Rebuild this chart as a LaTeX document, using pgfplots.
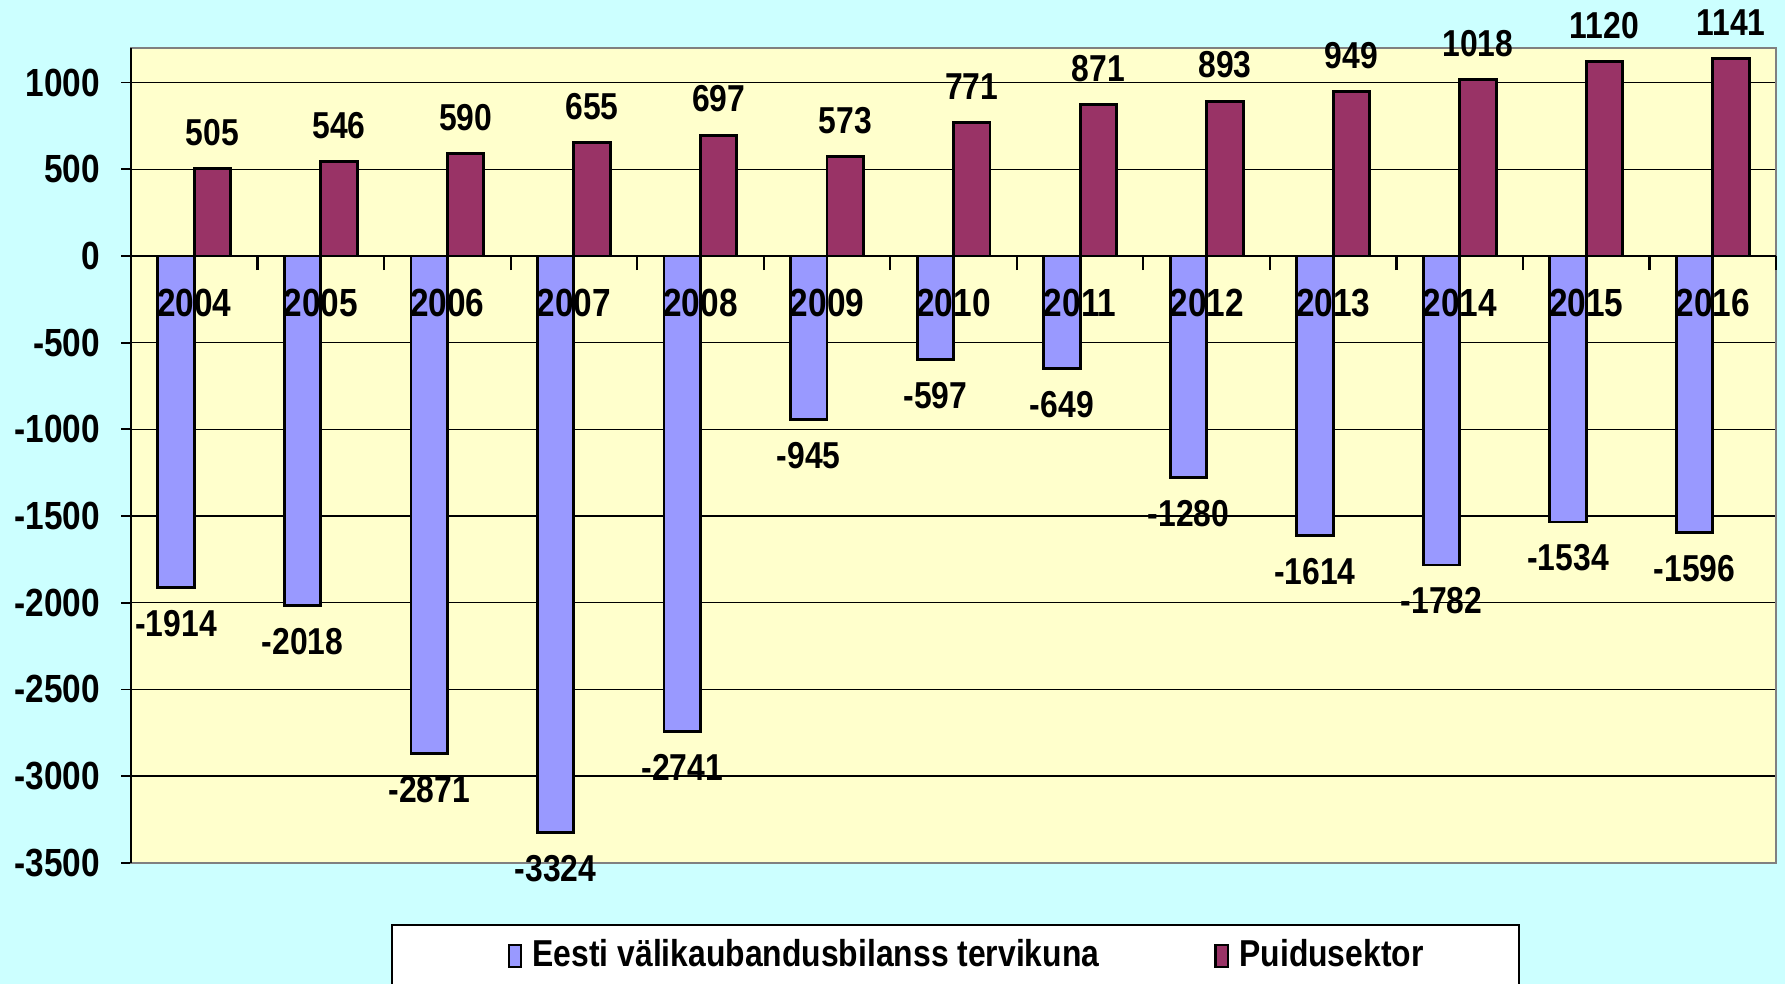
\documentclass[border=0pt]{standalone}
\usepackage{fontspec}
\setmainfont{Liberation Sans}[FakeStretch=0.85]
\usepackage{pgfplots}
\pgfplotsset{compat=1.18}

\definecolor{bgcyan}{RGB}{204,255,255}
\definecolor{plotyellow}{RGB}{255,255,204}
\definecolor{barblue}{RGB}{153,153,255}
\definecolor{barred}{RGB}{153,51,102}

\pgfplotsset{
  sqleg/.style={legend image code/.code={%
      \draw[##1,line width=0.6pt] (0pt,-3pt) rectangle (3.4pt,3pt);
      \path (6.3pt,0pt);}},
  samebox/.style={at={(0,0)}, anchor=south west, scale only axis,
      width=460.8pt, height=228.3pt,
      xmin=-0.5, xmax=12.5, ymin=-3500, ymax=1200},
}

\begin{document}
\begin{tikzpicture}
\useasboundingbox (-36.7pt,-33.9pt) rectangle (463.3pt,241.7pt);
\clip (-36.7pt,-33.9pt) rectangle (463.3pt,241.7pt);
\fill[bgcyan] (-36.7pt,-33.9pt) rectangle (463.3pt,241.7pt);
% legend frame (cut by the page bottom)
\draw[fill=white,line width=0.7pt] (73.1pt,-17.4pt) rectangle (388.8pt,-50pt);

\begin{axis}[
    samebox,
    ybar=0pt, bar width=0.288,
    axis background/.style={fill=plotyellow},
    axis line style={draw=gray, line width=0.7pt},
    xtick=\empty,
    ytick={-3500,-3000,-2500,-2000,-1500,-1000,-500,0,500,1000},
    yticklabels={-3500,-3000,-2500,-2000,-1500,-1000,-500,0,500,1000},
    ytick pos=left, ytick align=outside, major tick length=2.8pt,
    major tick style={black, line width=0.5pt},
    ymajorgrids, major grid style={black, line width=0.4pt},
    yticklabel style={font=\bfseries\fontsize{11}{13}\selectfont, xshift=-2.4pt},
    point meta=y,
    nodes near coords,
    nodes near coords align=vertical,
    /pgf/number format/.cd, 1000 sep={}, assume math mode=true, /pgfplots/.cd,
    every node near coord/.append style={font=\bfseries\fontsize{10.5}{12}\selectfont,
        inner sep=6pt, text=black},
    legend columns=2,
    legend style={at={(axis description cs:0.2285,-0.1143)}, anchor=west,
        draw=none, fill=none, inner sep=0pt, column sep=0pt,
        nodes={inner sep=0pt},
        font=\bfseries\fontsize{10.5}{12}\selectfont},
]
\addplot[fill=barblue, draw=black, line width=0.8pt, sqleg] coordinates {
    (0,-1914) (1,-2018) (2,-2871) (3,-3324) (4,-2741) (5,-945) (6,-597)
    (7,-649) (8,-1280) (9,-1614) (10,-1782) (11,-1534) (12,-1596)
};
\addlegendentry{\makebox[191pt][l]{Eesti välikaubandusbilanss tervikuna}}
\addplot[fill=barred, draw=black, line width=0.8pt, sqleg] coordinates {
    (0,505) (1,546) (2,590) (3,655) (4,697) (5,573) (6,771)
    (7,871) (8,893) (9,949) (10,1018) (11,1120) (12,1141)
};
\addlegendentry{Puidusektor}
\end{axis}

% x axis at zero with year labels, drawn over the bars
\begin{axis}[
    samebox,
    axis x line=middle, axis y line=left,
    axis line style={-, black, line width=0.6pt},
    ytick=\empty,
    xtick={0,1,2,3,4,5,6,7,8,9,10,11,12},
    xticklabels={2004,2005,2006,2007,2008,2009,2010,2011,2012,2013,2014,2015,2016},
    minor xtick={-0.5,0.5,...,12.5},
    xtick align=outside, major tick length=0pt, minor tick length=4pt,
    minor tick style={black, line width=0.6pt},
    hide obscured x ticks=false,
    xticklabel style={font=\bfseries\fontsize{11}{13}\selectfont, anchor=center, yshift=-13.2pt},
]
\end{axis}
\end{tikzpicture}
\end{document}
